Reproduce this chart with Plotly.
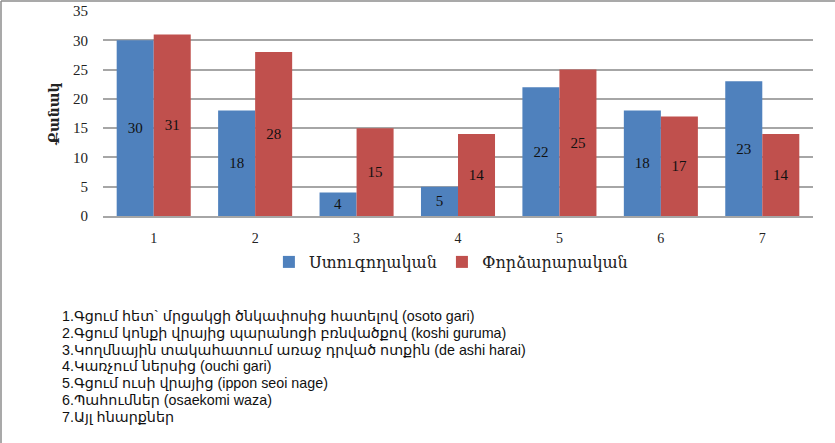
import plotly.graph_objects as go

categories = ["1", "2", "3", "4", "5", "6", "7"]
control = [30, 18, 4, 5, 22, 18, 23]
experimental = [31, 28, 15, 14, 25, 17, 14]
series_names = ["Ստուգողական", "Փորձարարական"]
y_title = "Քանակ"
y_ticks = [0, 5, 10, 15, 20, 25, 30, 35]
notes = [
    "1.Գցում հետ` մրցակցի ծնկափոսից հատելով (osoto gari)",
    "2.Գցում կոնքի վրայից պարանոցի բռնվածքով (koshi guruma)",
    "3.Կողմնային տակահատում առաջ դրված ոտքին (de ashi harai)",
    "4.Կառչում ներսից (ouchi gari)",
    "5.Գցում ուսի վրայից (ippon seoi nage)",
    "6.Պահումներ (osaekomi waza)",
    "7.Այլ հնարքներ",
]

W, H = 835, 443
ML, MR, MT, MB = 103, 22, 11, 227
PW = W - ML - MR
PH = H - MT - MB

serif = "Liberation Serif, DejaVu Serif, serif"
sans = "Liberation Sans, DejaVu Sans, sans-serif"


def py(px):
    """Pixel row on the page -> paper y coordinate."""
    return (MT + PH - px) / PH


def pxx(px):
    """Pixel column on the page -> paper x coordinate."""
    return (px - ML) / PW


fig = go.Figure()
for name, vals, color in [
    (series_names[0], control, "#4F81BD"),
    (series_names[1], experimental, "#C0504D"),
]:
    fig.add_trace(go.Bar(
        x=categories, y=vals, name=name,
        marker=dict(color=color, line=dict(width=0)),
        text=[str(v) for v in vals],
        textposition="inside", insidetextanchor="middle",
        textangle=0,
        textfont=dict(family=serif, size=15, color="#111111"),
    ))

fig.update_layout(
    width=W, height=H,
    margin=dict(l=ML, r=MR, t=MT, b=MB, autoexpand=False),
    paper_bgcolor="white", plot_bgcolor="white",
    barmode="group", bargap=0.27, bargroupgap=0,
    showlegend=True,
    legend=dict(
        orientation="h", x=0.49, xanchor="center",
        y=py(245), yanchor="top",
        font=dict(family=serif, size=16, color="#222222"),
        itemwidth=30, traceorder="normal",
    ),
    font=dict(family=serif, color="#222222"),
)

fig.update_yaxes(
    range=[0, 35], tickvals=y_ticks, automargin=False,
    showgrid=True, gridcolor="#A6A6A6", gridwidth=1.5,
    zeroline=False, showline=False,
    ticks="", ticklabelstandoff=14,
    tickfont=dict(family=serif, size=15, color="#222222"),
    title=dict(text="<b>" + y_title + "</b>", standoff=10,
               font=dict(family=serif, size=14, color="#222222")),
)
fig.update_xaxes(
    automargin=False,
    showline=True, linecolor="#A6A6A6", linewidth=1.5,
    ticks="", ticklabelstandoff=8,
    tickfont=dict(family=serif, size=14, color="#222222"),
)

# list of technique names below the chart, one line each
for i, line in enumerate(notes):
    fig.add_annotation(
        xref="paper", yref="paper",
        x=pxx(60), y=py(316 + i * 16.8),
        xanchor="left", yanchor="middle", align="left",
        showarrow=False, text=line,
        font=dict(family=sans, size=14.3, color="#111111"),
    )

# frame lines on the left and top edges
fig.add_shape(type="line", xref="paper", yref="paper",
              x0=pxx(1), x1=pxx(1), y0=py(H), y1=py(1),
              line=dict(color="#8C8C8C", width=1.5))
fig.add_shape(type="line", xref="paper", yref="paper",
              x0=pxx(1), x1=pxx(W), y0=py(1), y1=py(1),
              line=dict(color="#8C8C8C", width=1.5))

fig.write_html("out.html")
